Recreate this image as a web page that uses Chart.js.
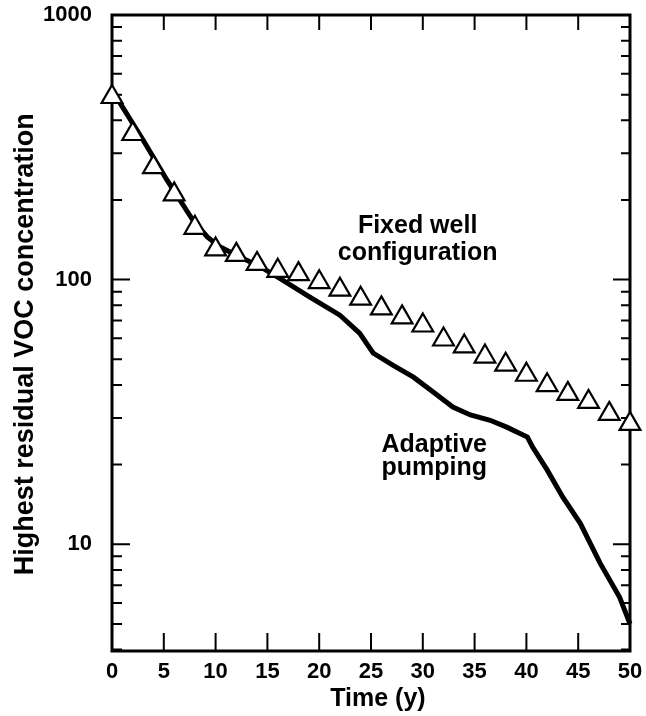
<!DOCTYPE html>
<html>
<head>
<meta charset="utf-8">
<script src="https://cdn.jsdelivr.net/npm/chart.js@4.4.1/dist/chart.umd.min.js"></script>
<style>
  html, body { margin: 0; padding: 0; background: #fff; }
</style>
</head>
<body>
<canvas id="vocChart" width="646" height="716"></canvas>
<script>
// Fixed well configuration (open triangles), one every 2 years
var fixedYears = [0, 2, 4, 6, 8, 10, 12, 14, 16, 18, 20, 22, 24, 26, 28, 30, 32, 34, 36, 38, 40, 42, 44, 46, 48, 50];
var fixedConc = [490, 355, 266, 210, 157, 130, 124, 114.6, 108, 104.9, 97.8, 91.6, 84.7, 77.9, 72.0, 67.1, 59.4, 55.9, 51.2, 47.7, 43.7, 39.9, 37.0, 34.5, 31.1, 28.5];

// Adaptive pumping (solid line)
var adaptiveYears = [0, 3, 5.3, 7.8, 9.2, 10.4, 12.4, 14.3, 16.2, 19.1, 22, 23.9, 25.2, 27.1, 29.1, 31, 32.9, 34.6, 36.5, 38.1, 40.1, 40.6, 42, 43.5, 45.2, 47.1, 49, 50];
var adaptiveConc = [520, 337, 238, 168, 145, 133, 121.6, 112, 101, 85.9, 73.4, 62.8, 52.8, 47.5, 42.8, 37.6, 33.0, 30.8, 29.4, 27.7, 25.4, 23.3, 19.1, 15.1, 12.0, 8.5, 6.3, 5.0];

// axis ticks
var xTickLabels = [0, 5, 10, 15, 20, 25, 30, 35, 40, 45, 50];
var yTickLabels = [10, 100, 1000];
var yMinorTicks = [4, 5, 6, 7, 8, 9, 20, 30, 40, 50, 60, 70, 80, 90, 200, 300, 400, 500, 600, 700, 800, 900];

var FONT = "'Liberation Sans', Arial, Helvetica, sans-serif";

function pairs(xs, ys) {
    return xs.map(function (x, i) { return { x: x, y: ys[i] }; });
}

// frame with tick marks pointing inward on all four sides
var frameTicks = {
    id: "frameTicks",
    beforeDatasetsDraw: function (chart) {
        var ctx = chart.ctx;
        var a = chart.chartArea;
        var xs = chart.scales.x;
        var ys = chart.scales.y;
        ctx.save();
        ctx.strokeStyle = "#000";
        ctx.lineWidth = 2;
        xTickLabels.forEach(function (v) {
            if (v === 0 || v === 50) return;
            var px = xs.getPixelForValue(v);
            ctx.beginPath();
            ctx.moveTo(px, a.bottom); ctx.lineTo(px, a.bottom - 18);
            ctx.moveTo(px, a.top); ctx.lineTo(px, a.top + 15);
            ctx.stroke();
        });
        yTickLabels.forEach(function (v) {
            var py = ys.getPixelForValue(v);
            ctx.beginPath();
            ctx.moveTo(a.left, py); ctx.lineTo(a.left + 18, py);
            ctx.moveTo(a.right, py); ctx.lineTo(a.right - 17, py);
            ctx.stroke();
        });
        yMinorTicks.forEach(function (v) {
            var py = ys.getPixelForValue(v);
            ctx.beginPath();
            ctx.moveTo(a.left, py); ctx.lineTo(a.left + 10, py);
            ctx.moveTo(a.right, py); ctx.lineTo(a.right - 9, py);
            ctx.stroke();
        });
        ctx.lineWidth = 3;
        ctx.strokeRect(a.left, a.top, a.right - a.left, a.bottom - a.top);
        ctx.restore();
    }
};

// curve labels, placed in data coordinates
var curveLabels = {
    id: "curveLabels",
    afterDatasetsDraw: function (chart) {
        var ctx = chart.ctx;
        var xs = chart.scales.x;
        var ys = chart.scales.y;
        var notes = [
            { t: "Fixed well", x: 29.5, y: 160 },
            { t: "configuration", x: 29.5, y: 126 },
            { t: "Adaptive", x: 31.1, y: 23.7 },
            { t: "pumping", x: 31.1, y: 19.4 }
        ];
        ctx.save();
        ctx.fillStyle = "#000";
        ctx.font = "bold 25px " + FONT;
        ctx.textAlign = "center";
        ctx.textBaseline = "middle";
        notes.forEach(function (n) {
            ctx.fillText(n.t, xs.getPixelForValue(n.x), ys.getPixelForValue(n.y));
        });
        ctx.restore();
    }
};

var ctx = document.getElementById("vocChart").getContext("2d");
var chart = new Chart(ctx, {
    type: "scatter",
    data: {
        datasets: [
            {
                label: "Adaptive pumping",
                data: pairs(adaptiveYears, adaptiveConc),
                showLine: true,
                borderColor: "#000",
                borderWidth: 5,
                pointRadius: 0,
                tension: 0,
                clip: false,
                order: 2
            },
            {
                label: "Fixed well configuration",
                data: pairs(fixedYears, fixedConc),
                showLine: false,
                pointStyle: "triangle",
                pointRadius: 12,
                backgroundColor: "#fff",
                borderColor: "#000",
                borderWidth: 2.2,
                clip: false,
                order: 1
            }
        ]
    },
    options: {
        responsive: false,
        animation: false,
        layout: { padding: { top: 15, right: 16, left: 0, bottom: 0 } },
        plugins: {
            legend: { display: false },
            tooltip: { enabled: false }
        },
        scales: {
            x: {
                type: "linear",
                min: 0,
                max: 50,
                grid: { display: false, drawTicks: false },
                border: { display: false },
                afterBuildTicks: function (s) {
                    s.ticks = xTickLabels.map(function (v) { return { value: v }; });
                },
                afterFit: function (s) {
                    s.height = 65;
                    s.paddingLeft = 0;
                    s.paddingRight = 0;
                },
                ticks: {
                    color: "#000",
                    padding: 8,
                    maxRotation: 0,
                    font: { family: FONT, size: 22, weight: "bold" }
                },
                title: {
                    display: true,
                    text: "  Time (y)",
                    color: "#000",
                    padding: { top: 0, bottom: 2 },
                    font: { family: FONT, size: 25, weight: "bold" }
                }
            },
            y: {
                type: "logarithmic",
                min: 3.95,
                max: 1000,
                grid: { display: false, drawTicks: false },
                border: { display: false },
                afterBuildTicks: function (s) {
                    s.ticks = yTickLabels.map(function (v) { return { value: v }; });
                },
                afterFit: function (s) {
                    s.width = 112;
                    s.paddingTop = 0;
                    s.paddingBottom = 0;
                },
                ticks: {
                    color: "#000",
                    padding: 20,
                    callback: function (v) { return String(v); },
                    font: { family: FONT, size: 22, weight: "bold" }
                },
                title: {
                    display: true,
                    text: "Highest residual VOC concentration   ",
                    color: "#000",
                    padding: { top: 9, bottom: 0 },
                    font: { family: FONT, size: 27, weight: "bold" }
                }
            }
        }
    },
    plugins: [frameTicks, curveLabels]
});
</script>
</body>
</html>
